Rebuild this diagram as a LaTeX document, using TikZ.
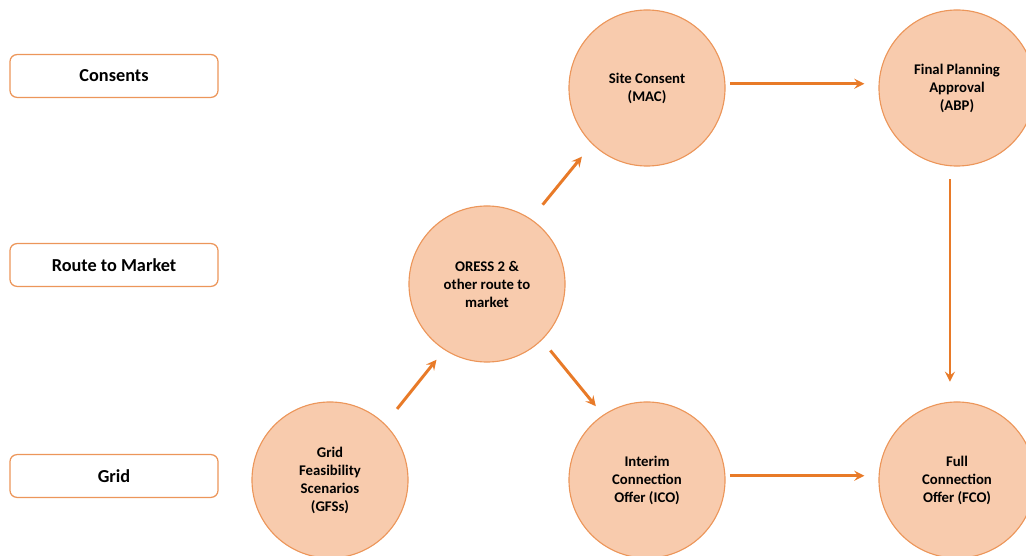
\documentclass[tikz,border=0pt]{standalone}
\usepackage{fontspec}
\setmainfont{Carlito}
\usepackage{tikz}
\usetikzlibrary{arrows}
\definecolor{ressorange}{RGB}{232,122,40}
\definecolor{resspeach}{RGB}{248,203,173}
\definecolor{ressline}{RGB}{236,150,90}

\begin{document}
\begin{tikzpicture}[
    x=0.025cm, y=-0.025cm,
    every node/.style={font=\bfseries},
    lanebox/.style={rectangle, rounded corners=5pt, minimum width=5.2cm, minimum height=1.07cm, text centered, draw=ressline, fill=white, line width=0.9pt, font=\fontsize{13}{15}\selectfont\bfseries},
    stage/.style={circle, minimum size=3.9cm, inner sep=0pt, align=center, draw=ressline, fill=resspeach, line width=0.8pt, font=\fontsize{10.5}{12.8}\selectfont\bfseries},
    arrow/.style={->, >=stealth, line width=2.1pt, draw=ressorange}
]
\useasboundingbox (0,0) rectangle (1026,556);
\clip (0,0) rectangle (1026,556);

% lanes on the left
\node[lanebox] (consents) at (114,76) {Consents};
\node[lanebox] (route) at (114,265) {Route to Market};
\node[lanebox] (grid) at (114,476) {Grid};

% stages
\node[stage] (gfs) at (330,480) {Grid\\Feasibility\\Scenarios\\(GFSs)};
\node[stage] (oress) at (487,284) {ORESS 2 \&\\other route to\\market};
\node[stage] (site) at (647,88) {Site Consent\\(MAC)};
\node[stage] (ico) at (647,480) {Interim\\Connection\\Offer (ICO)};
\node[stage] (abp) at (957,88) {Final Planning\\Approval\\(ABP)};
\node[stage] (fco) at (957,480) {Full\\Connection\\Offer (FCO)};

\draw[arrow, shorten <=14pt, shorten >=8pt, transform canvas={shift={(4pt,-4pt)}}] (gfs) -- (oress);
\draw[arrow, shorten <=13pt, shorten >=11pt, transform canvas={shift={(-4pt,3pt)}}] (oress) -- (site);
\draw[arrow, shorten <=9pt, shorten >=8pt, transform canvas={shift={(4pt,3pt)}}] (oress) -- (ico);
\draw[arrow, shorten <=3pt, shorten >=10pt] ([yshift=3pt]site.east) -- ([yshift=3pt]abp.west);
\draw[arrow, shorten <=3pt, shorten >=10pt] ([yshift=3pt]ico.east) -- ([yshift=3pt]fco.west);
\draw[arrow, shorten <=9pt, shorten >=14pt] ([xshift=-5pt]abp.south) -- ([xshift=-5pt]fco.north);

\end{tikzpicture}
\end{document}
